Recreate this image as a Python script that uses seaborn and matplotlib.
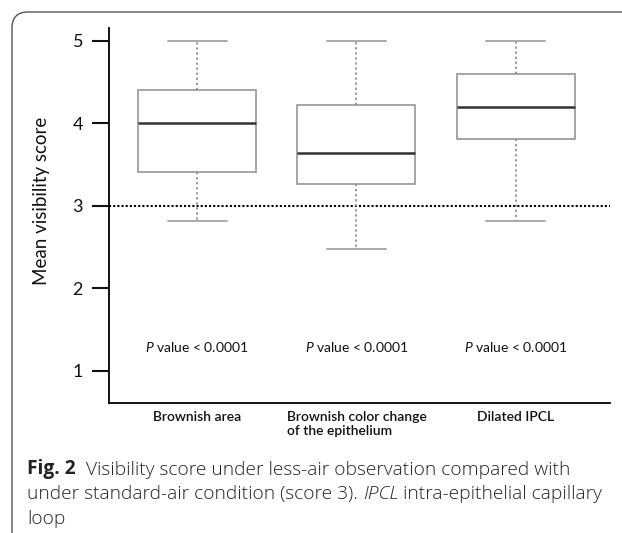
import matplotlib
matplotlib.use('Agg')
import numpy as np
import pandas as pd
import matplotlib.pyplot as plt
import seaborn as sns
from matplotlib.patches import PathPatch
from matplotlib.path import Path
from matplotlib.transforms import IdentityTransform

# categories on the x axis
categories = ['Brownish area', 'Brownish color change\nof the epithelium', 'Dilated IPCL']

# five-number summaries: min, Q1, median, Q3, max
brownish_area = [2.81, 3.41, 4.00, 4.40, 5.00]
brownish_color = [2.47, 3.26, 3.64, 4.22, 5.00]
dilated_ipcl = [2.82, 3.81, 4.20, 4.60, 5.00]

p_labels = [r'$\mathit{P}$ value < 0.0001'] * 3
p_label_y = 1.29
reference_score = 3
y_ticks = [1, 2, 3, 4, 5]

df = pd.DataFrame({
    'feature': np.repeat(categories, 5),
    'score': brownish_area + brownish_color + dilated_ipcl,
})

sns.set_style('white')
plt.rcParams['font.family'] = ['Lato', 'DejaVu Sans']
plt.rcParams['mathtext.fontset'] = 'custom'
plt.rcParams['mathtext.rm'] = 'Lato'
plt.rcParams['mathtext.it'] = 'Lato:italic'
plt.rcParams['mathtext.bf'] = 'Lato:bold'

fig = plt.figure(figsize=(6.22, 5.33), dpi=100)
ax = fig.add_axes([0.1748, 0.2439, 0.8059, 0.703])

sns.boxplot(
    data=df,
    x='feature',
    y='score',
    order=categories,
    width=0.74,
    whis=(0, 100),
    color='white',
    linecolor='#9e9e9e',
    linewidth=1.3,
    medianprops=dict(color='#333333', linewidth=1.8),
    whiskerprops=dict(color='#8f8f8f', linestyle=(0, (1.2, 1.6))),
    capprops=dict(color='#a3a3a3'),
    ax=ax,
)

ax.axhline(reference_score, color='black', linestyle=(0, (1, 1)), linewidth=1.5, zorder=1)

for i, lab in enumerate(p_labels):
    ax.text(i, p_label_y, lab, ha='center', va='center', fontsize=10, color='#111111')

ax.set_xlim(-0.554, 2.59)
ax.set_ylim(0.61, 5.15)
ax.set_yticks(y_ticks)
ax.set_xlabel('')
ax.set_ylabel('Mean visibility score', fontsize=13.5, color='#111111')
ax.yaxis.set_label_coords(-0.117, 0.54)

sns.despine(ax=ax)
for side in ['left', 'bottom']:
    ax.spines[side].set_color('black')
    ax.spines[side].set_linewidth(1.3)

ax.tick_params(axis='y', length=12.5, width=1.5, pad=6, labelsize=13, colors='#111111', left=True)
ax.tick_params(axis='x', length=0, pad=6, labelsize=10, colors='#111111')
for lab in ax.get_xticklabels():
    lab.set_fontweight('semibold')
    lab.set_multialignment('left')
    lab.set_verticalalignment('top')

# rounded frame: only the left and top edges are inside the picture
r = 16
frame_path = Path(
    [(12, -10), (12, 521 - r), (12, 521), (12 + r, 521), (900, 521)],
    [Path.MOVETO, Path.LINETO, Path.CURVE3, Path.CURVE3, Path.LINETO],
)
fig.patches.append(PathPatch(frame_path, transform=IdentityTransform(), facecolor='none',
                             edgecolor='#555555', linewidth=1.0))

# caption
cap_kw = dict(fontsize=13.8, family='Open Sans', color='#222222')
t1 = fig.text(27 / 622, 1 - 474 / 533, 'Fig. 2', fontweight='bold', va='baseline', **cap_kw)
ax.annotate('  Visibility score under less-air observation compared with', xy=(1, 0), xycoords=t1,
            va='bottom', ha='left', annotation_clip=False, fontweight='light', **cap_kw)
t3 = fig.text(27 / 622, 1 - 499 / 533, 'under standard-air condition (score 3). ', va='baseline',
              fontweight='light', **cap_kw)
t4 = ax.annotate('IPCL', xy=(1, 0), xycoords=t3, va='bottom', ha='left', style='italic',
                 annotation_clip=False, fontweight='light', **cap_kw)
ax.annotate(' intra-epithelial capillary', xy=(1, 0), xycoords=t4, va='bottom', ha='left',
            annotation_clip=False, fontweight='light', **cap_kw)
fig.text(27 / 622, 1 - 524 / 533, 'loop', va='baseline', fontweight='light', **cap_kw)

fig.savefig('out.png', dpi=100)
